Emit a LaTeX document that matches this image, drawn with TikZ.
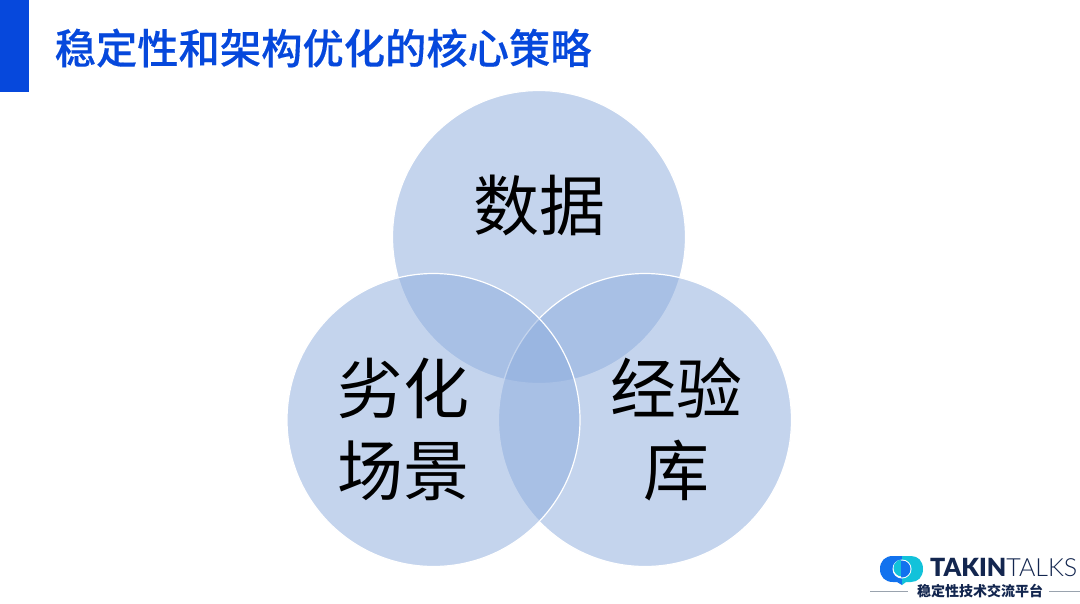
\documentclass[tikz,border=0pt]{standalone}
\usepackage{fontspec}
\setmainfont{Noto Sans CJK SC}
\newfontfamily\titlefont[FakeBold=0.25]{Noto Sans CJK SC Medium}
\newfontfamily\latinbold{Lato Black}
\newfontfamily\latinlight{Lato Light}
\definecolor{titleblue}{HTML}{0648DC}
\definecolor{vennblue}{HTML}{8FAEDE}
\definecolor{logonavy}{HTML}{13264F}
\definecolor{logoblue}{HTML}{1272EE}
\definecolor{logocyan}{HTML}{12C2DA}
\definecolor{rulegrey}{HTML}{9AA3AE}
\tikzset{
  x=1pt,y=-1pt,
  venn/.style={circle,minimum size=293pt,inner sep=0pt,fill=vennblue,fill opacity=.52,draw=white,line width=1.2pt},
  vennlabel/.style={font=\fontsize{66}{82}\selectfont,text=black,align=center,inner sep=0pt},
  logorule/.style={draw=rulegrey,line width=.7pt}
}
\begin{document}
\begin{tikzpicture}
\useasboundingbox (0,0) rectangle (1080,603);
\fill[white] (0,0) rectangle (1080,603);
\fill[titleblue] (0,0) rectangle (29,92);
\node[anchor=west,inner sep=0pt,text=titleblue,font=\fontsize{41.3}{44}\selectfont\titlefont] (title) at (54.5,48) {稳定性和架构优化的核心策略};
\node[venn] (top) at (539,237) {};
\node[venn] (right) at (645,420) {};
\node[venn] (left) at (433.5,420) {};
\node[vennlabel] (ltop) at (539,205) {数据};
\node[vennlabel] (lleft) at (403,429) {劣化\\场景};
\node[vennlabel] (lright) at (676,429) {经验\\库};
% logo
\fill[logoblue] (902,556) -- (893,556) .. controls (885,556) and (880,561) .. (880,569) .. controls (880,577) and (885,582) .. (893,582) -- (897,582) -- (902,585) -- cycle;
\fill[logocyan] (902,556) -- (911,556) .. controls (918,556) and (923,561) .. (923,569) .. controls (923,577) and (918,582) .. (911,582) -- (906,582) -- (902,585) -- cycle;
\fill[white] (902,569) circle[radius=9.5];
\begin{scope}
\clip (890,555) rectangle (901,585);
\fill[logocyan] (902,568) circle[radius=8.5];
\end{scope}
\begin{scope}
\clip (901,555) rectangle (915,585);
\fill[logoblue] (902,569) circle[radius=8.5];
\end{scope}
\node[anchor=west,inner sep=0pt,text=logonavy,font=\fontsize{25}{27}\selectfont\latinbold] (brand) at (930,567) {TAKIN{\latinlight TALKS}};
\node[inner sep=0pt,text=logonavy,font=\fontsize{14}{16}\selectfont\bfseries] (slogan) at (980,591.5) {稳定性技术交流平台};
\coordinate (ruleAstart) at (870,591);
\coordinate (ruleAend) at (908,591);
\coordinate (ruleBstart) at (1049,591);
\coordinate (ruleBend) at (1080,591);
\draw[logorule] (ruleAstart) -- (ruleAend);
\draw[logorule] (ruleBstart) -- (ruleBend);
\end{tikzpicture}
\end{document}
